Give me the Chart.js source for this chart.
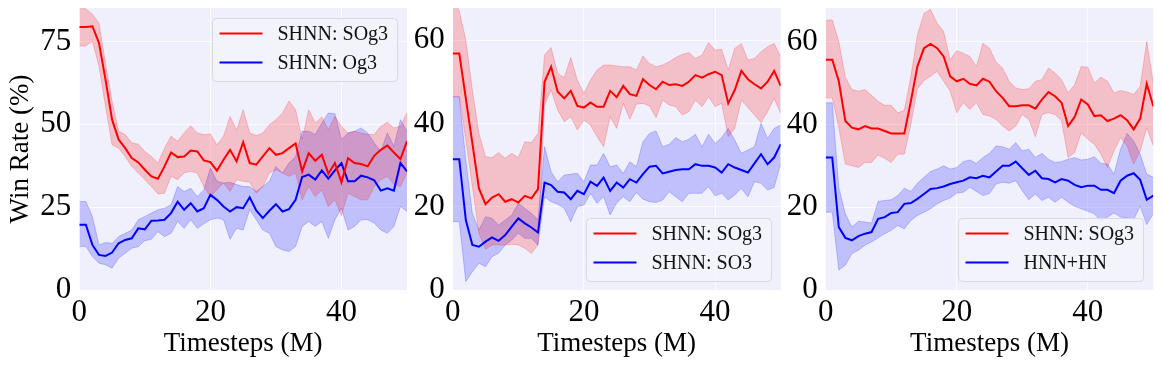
<!DOCTYPE html>
<html>
<head>
<meta charset="utf-8">
<script src="https://cdn.jsdelivr.net/npm/chart.js@4.4.1/dist/chart.umd.min.js"></script>
<style>
  body { margin: 0; background: #fff; }
  #wrap { position: relative; width: 1162px; height: 368px; }
  canvas { position: absolute; top: 0; }
</style>
</head>
<body>
<div id="wrap">
  <canvas id="c1" width="410" height="368" style="left:0px"></canvas>
  <canvas id="c2" width="375" height="368" style="left:410px"></canvas>
  <canvas id="c3" width="377" height="368" style="left:785px"></canvas>
</div>
<script>
// x grid (timesteps, millions)
const steps = [0,1,2,3,4,5,6,7,8,9,10,11,12,13,14,15,16,17,18,19,20,21,22,23,24,25,
  26,27,28,29,30,31,32,33,34,35,36,37,38,39,40,41,42,43,44,45,46,47,48,49,50];
const xTicks = [0, 20, 40];

// panel 1: SHNN: SOg3 vs SHNN: Og3
const p1Labels = ['SHNN: SOg3', 'SHNN: Og3'];
const p1YTicks = [0, 25, 50, 75];
const p1RedMean = [79.4,79.4,79.6,74.6,63.5,51.4,45.4,42.8,39.8,38.5,36.3,34.3,33.6,37.3,41.5,40.1,40.3,42.1,41.8,39.1,38.6,36.0,39.3,42.3,38.8,44.6,38.3,37.8,40.3,42.8,40.8,41.3,42.8,44.2,35.8,41.3,39.0,40.8,35.1,38.3,32.5,39.8,38.3,38.0,37.3,40.5,42.3,43.6,41.5,39.5,44.9];
const p1RedHi = [84.9,84.9,83.2,80.6,68.5,57.0,47.9,46.9,44.4,44.0,41.8,40.3,38.3,42.8,46.4,44.9,47.4,49.6,47.4,46.9,47.1,43.8,46.4,52.4,48.2,54.4,47.4,46.6,47.4,49.9,51.4,53.4,57.0,54.4,45.4,54.4,50.4,52.2,48.4,52.4,49.4,47.4,47.9,47.4,46.9,46.9,49.4,50.6,48.9,49.4,53.6];
const p1RedLo = [73.6,73.6,75.1,67.5,55.4,43.8,42.8,40.3,37.3,35.3,33.3,31.2,29.0,29.2,34.3,33.3,35.3,35.8,35.3,31.2,28.2,30.2,32.3,29.7,33.3,32.8,32.5,29.2,31.2,35.3,36.3,35.3,34.3,35.3,27.2,31.2,28.2,30.2,25.2,27.2,22.4,29.2,28.2,27.2,27.2,31.2,33.3,34.3,31.8,31.2,35.3];
const p1BlueMean = [19.7,19.7,13.6,10.6,10.3,11.3,14.1,15.1,15.6,18.6,18.3,20.9,21.0,21.2,23.2,26.6,24.2,26.2,23.7,24.7,28.7,27.2,25.2,23.7,25.0,24.7,28.0,24.0,21.7,23.9,25.9,23.7,24.4,27.2,34.1,34.8,33.3,36.1,33.6,36.1,38.3,32.8,32.8,34.5,34.0,33.1,30.0,30.7,30.0,38.3,35.8];
const p1BlueHi = [26.7,26.7,22.2,13.6,14.3,14.1,16.1,17.1,18.1,21.2,22.2,23.2,24.2,24.7,25.7,31.2,29.7,30.7,28.2,30.2,36.8,32.8,32.3,32.5,31.8,31.2,31.2,29.7,31.2,32.8,37.3,35.3,38.3,40.3,47.9,47.9,46.9,50.4,53.4,53.2,45.4,47.4,47.9,48.9,47.4,44.4,41.8,47.4,43.3,51.4,47.9];
const p1BlueLo = [13.1,13.1,10.1,8.1,7.6,6.6,9.6,11.1,12.6,13.1,14.9,15.3,17.6,16.1,17.1,20.7,18.6,21.2,18.6,20.0,21.2,21.7,21.2,15.3,18.6,18.1,24.2,21.2,18.1,17.1,13.1,12.1,11.6,13.1,19.2,20.7,19.2,20.7,15.6,21.2,24.7,18.1,19.2,21.2,21.2,20.2,18.1,17.1,19.2,25.2,23.7];

// panel 2: SHNN: SOg3 vs SHNN: SO3
const p2Labels = ['SHNN: SOg3', 'SHNN: SO3'];
const p2YTicks = [0, 20, 40, 60];
const p2RedMean = [56.8,56.8,46.0,35.2,24.4,20.6,22.2,23.0,21.2,21.8,21.0,22.6,22.0,24.2,50.0,53.6,47.6,46.0,47.8,44.2,43.8,45.0,44.0,44.0,47.8,46.3,49.0,47.0,46.6,50.6,49.2,48.2,50.0,49.2,49.4,49.0,50.0,51.6,51.0,51.8,52.4,51.6,44.8,48.0,52.6,50.6,49.4,48.4,50.0,52.6,49.0];
const p2RedHi = [70.0,67.0,60.0,48.0,37.6,32.0,31.8,33.0,31.6,32.8,31.8,35.6,35.4,37.6,56.4,58.2,52.0,51.0,55.8,50.4,47.2,50.4,52.8,54.0,54.0,53.8,53.6,53.6,52.8,56.2,54.4,53.6,54.0,54.8,55.8,56.6,57.0,55.6,56.4,59.4,57.6,57.8,52.8,58.0,59.2,55.2,55.6,57.2,58.4,59.2,56.0];
const p2RedLo = [46.4,46.4,36.0,24.8,13.6,9.8,10.8,10.8,10.8,11.0,10.8,10.0,8.8,10.8,44.4,48.0,43.2,40.4,41.6,38.4,40.8,39.6,36.8,34.4,41.6,38.8,44.8,41.0,44.6,44.8,44.2,41.4,45.6,44.4,44.0,42.0,42.8,45.6,44.0,46.4,44.0,44.8,36.8,38.8,45.6,43.8,42.0,40.2,42.8,46.0,42.4];
const p2BlueMean = [31.4,31.4,16.8,10.8,10.4,11.6,12.6,11.8,13.2,15.2,17.2,16.0,15.0,13.8,25.8,25.2,23.6,23.4,21.8,23.8,23.0,26.0,25.0,27.0,23.8,25.8,24.6,26.6,25.8,27.8,29.6,29.8,28.0,28.4,28.8,29.0,29.0,30.2,29.8,29.8,29.4,28.2,30.2,29.4,28.8,28.2,30.4,32.6,30.2,31.8,35.0];
const p2BlueHi = [46.4,46.4,31.2,18.4,14.4,17.6,17.2,15.6,16.8,18.0,20.8,19.6,18.4,16.8,34.4,28.4,26.0,27.6,27.8,28.0,26.0,30.0,30.0,32.8,29.6,30.0,28.0,30.8,29.6,35.6,37.6,38.2,34.4,35.0,36.6,35.6,36.2,37.4,34.4,37.4,35.2,36.6,38.8,36.0,32.8,33.6,34.4,40.0,36.4,38.8,39.6];
const p2BlueLo = [16.4,16.4,2.0,4.4,6.4,5.6,8.0,8.8,10.8,12.0,13.6,12.4,12.4,10.8,22.4,21.2,20.6,19.6,16.4,20.0,20.4,23.2,20.8,22.4,18.0,20.9,22.4,21.2,23.4,21.8,21.2,21.0,21.6,23.6,22.4,21.2,23.2,23.2,23.2,24.8,22.6,23.2,21.6,22.8,24.4,22.4,26.0,25.6,24.0,24.6,30.4];

// panel 3: SHNN: SOg3 vs HNN+HN
const p3Labels = ['SHNN: SOg3', 'HNN+HN'];
const p3YTicks = [0, 20, 40, 60];
const p3RedMean = [55.6,55.6,50.4,40.8,39.2,38.8,39.6,39.0,39.0,38.4,37.8,37.8,37.8,45.6,54.0,58.4,59.4,58.4,56.4,51.6,50.4,51.0,49.8,49.4,51.0,50.3,48.0,46.4,44.4,44.4,44.6,44.6,43.8,46.0,47.8,46.8,45.2,39.6,41.8,46.0,44.8,42.0,42.2,40.8,41.4,42.2,41.0,38.8,41.4,49.8,44.4];
const p3RedHi = [65.2,65.2,60.0,51.4,48.4,48.0,48.4,47.0,45.6,44.6,44.6,42.8,43.4,51.6,61.6,66.8,67.8,64.4,62.4,55.6,57.8,57.2,56.4,54.0,59.6,58.4,55.0,53.6,50.4,48.8,48.4,48.6,50.4,50.8,53.6,52.4,50.8,47.6,49.6,54.0,53.8,50.0,51.4,50.4,47.6,48.2,47.8,47.2,49.2,60.0,50.0];
const p3RedLo = [46.4,46.4,39.2,30.4,30.0,29.6,30.8,30.8,32.6,31.8,30.8,32.8,32.8,40.0,48.6,50.6,51.6,52.8,50.4,48.0,42.8,45.2,43.6,45.2,42.4,42.0,41.2,39.6,38.4,39.6,42.4,41.2,37.0,42.4,42.8,42.4,40.8,32.0,33.2,38.0,36.4,35.2,32.8,29.6,33.6,36.8,34.8,30.4,33.6,39.2,34.8];
const p3BlueMean = [32.0,32.0,15.2,12.6,12.0,13.0,13.6,14.0,17.2,17.6,18.6,18.8,20.8,21.0,22.0,23.2,24.4,24.6,25.0,25.6,26.0,26.4,27.2,27.0,27.6,27.2,28.6,30.0,30.0,31.0,29.4,27.8,28.8,27.0,26.8,26.0,26.8,26.4,25.4,24.8,25.2,25.2,24.2,24.2,23.4,26.4,27.6,28.2,26.6,21.8,22.8];
const p3BlueHi = [45.2,45.2,24.8,18.4,15.2,16.6,16.4,16.2,21.4,21.6,21.8,22.8,24.6,23.8,25.8,27.2,28.6,29.2,30.0,29.2,29.6,31.0,31.4,30.6,32.0,33.0,34.8,34.6,34.0,35.6,33.6,34.0,32.0,33.0,31.6,30.8,31.0,31.6,32.0,31.4,31.6,32.2,30.6,30.4,28.0,34.0,37.8,36.0,32.8,28.0,27.2];
const p3BlueLo = [18.8,18.8,4.8,6.0,8.8,9.6,10.8,11.6,12.6,13.6,14.4,15.6,14.8,16.8,18.0,18.8,19.6,20.8,21.6,22.2,23.4,23.6,24.8,23.8,22.8,23.3,25.6,26.0,25.8,26.4,24.0,21.8,23.2,21.6,22.4,21.2,22.4,21.2,20.2,19.6,19.0,18.4,16.6,17.6,18.6,17.6,17.4,17.0,20.2,15.8,18.4];

const FONT = '"Liberation Serif", "Times New Roman", serif';
const RED = '#ff0000';
const BLUE = '#0000ff';
const BG = '#f0f0fc';
const GRID = 'rgba(255,255,255,0.7)';

const pts = arr => arr.map((v, i) => ({ x: steps[i], y: v }));

// plot-area background
const areaBg = {
  id: 'areaBg',
  beforeDraw(chart) {
    const { ctx, chartArea: a } = chart;
    ctx.save();
    ctx.fillStyle = BG;
    ctx.fillRect(a.left, a.top, a.right - a.left, a.bottom - a.top);
    ctx.restore();
  }
};

// legend drawn inside the plot area, matplotlib style
const boxLegend = {
  id: 'boxLegend',
  afterDraw(chart, args, opts) {
    const { ctx, chartArea: a } = chart;
    const w = 185, h = 63;
    const x = Math.round(a.right - 10 - w) + 0.5;
    const y = Math.round(opts.corner === 'top' ? a.top + 10 : a.bottom - 9 - h) + 0.5;
    ctx.save();
    ctx.beginPath();
    ctx.roundRect(x, y, w, h, 4);
    ctx.fillStyle = 'rgba(243,243,252,0.85)';
    ctx.fill();
    ctx.strokeStyle = '#d8d8e0';
    ctx.lineWidth = 1;
    ctx.stroke();
    ctx.font = '20px ' + FONT;
    ctx.textBaseline = 'middle';
    opts.items.forEach((it, k) => {
      const ly = y + 15 + k * 29;
      ctx.strokeStyle = it.color;
      ctx.lineWidth = 2;
      ctx.beginPath();
      ctx.moveTo(x + 7, ly);
      ctx.lineTo(x + 50, ly);
      ctx.stroke();
      ctx.fillStyle = '#111';
      ctx.fillText(it.text, x + 65, ly + 1);
    });
    ctx.restore();
  }
};

function makePanel(id, o) {
  const band = (data, color, fill) => ({
    data: pts(data), borderColor: color, borderWidth: 1, backgroundColor: color,
    pointRadius: 0, fill: fill, order: 2, tension: 0
  });
  const line = (data, color) => ({
    data: pts(data), borderColor: color, borderWidth: 2, pointRadius: 0,
    fill: false, order: 0, tension: 0
  });
  new Chart(document.getElementById(id), {
    type: 'line',
    data: {
      datasets: [
        band(o.redLo, 'rgba(255,0,0,0.2)', false),
        band(o.redHi, 'rgba(255,0,0,0.2)', 0),
        band(o.blueLo, 'rgba(0,0,255,0.2)', false),
        band(o.blueHi, 'rgba(0,0,255,0.2)', 2),
        line(o.redMean, RED),
        line(o.blueMean, BLUE)
      ]
    },
    options: {
      responsive: false,
      animation: false,
      devicePixelRatio: 1,
      layout: { padding: { left: 0, right: o.padRight, top: 8, bottom: 0 } },
      plugins: {
        legend: { display: false },
        tooltip: { enabled: false },
        boxLegend: {
          corner: o.corner,
          items: [{ text: o.labels[0], color: RED }, { text: o.labels[1], color: BLUE }]
        }
      },
      scales: {
        x: {
          type: 'linear', min: 0, max: 50,
          afterBuildTicks: s => { s.ticks = xTicks.map(v => ({ value: v })); },
          afterFit: s => { s.height = 78; s.paddingLeft = 0; s.paddingRight = 0; },
          grid: { color: GRID, lineWidth: 1, drawTicks: false },
          border: { display: false },
          ticks: { color: '#000', font: { family: FONT, size: 31 }, padding: 4, maxRotation: 0 },
          title: {
            display: true, text: 'Timesteps (M)', color: '#000',
            font: { family: FONT, size: 27, lineHeight: 1.2 }, padding: { top: 0, bottom: 8 }
          }
        },
        y: {
          min: 0, max: o.yMax,
          afterBuildTicks: s => { s.ticks = o.yTicks.map(v => ({ value: v })); },
          afterFit: s => { s.width = o.yWidth; s.paddingTop = 0; s.paddingBottom = 0; },
          grid: { color: GRID, lineWidth: 1, drawTicks: false },
          border: { display: false },
          ticks: { color: '#000', font: { family: FONT, size: 31 }, padding: 8 },
          title: {
            display: !!o.yTitle, text: o.yTitle || '', color: '#000',
            font: { family: FONT, size: 27, lineHeight: 1.2 }, padding: { top: 5, bottom: 0 }
          }
        }
      }
    },
    plugins: [areaBg, boxLegend]
  });
}

makePanel('c1', {
  labels: p1Labels, yTicks: p1YTicks, yMax: 85.1, yWidth: 79.3, padRight: 3, corner: 'top',
  yTitle: 'Win Rate (%)',
  redMean: p1RedMean, redHi: p1RedHi, redLo: p1RedLo,
  blueMean: p1BlueMean, blueHi: p1BlueHi, blueLo: p1BlueLo
});
makePanel('c2', {
  labels: p2Labels, yTicks: p2YTicks, yMax: 67.7, yWidth: 42.7, padRight: 4.3, corner: 'bottom',
  redMean: p2RedMean, redHi: p2RedHi, redLo: p2RedLo,
  blueMean: p2BlueMean, blueHi: p2BlueHi, blueLo: p2BlueLo
});
makePanel('c3', {
  labels: p3Labels, yTicks: p3YTicks, yMax: 68.1, yWidth: 40.7, padRight: 8.7, corner: 'bottom',
  redMean: p3RedMean, redHi: p3RedHi, redLo: p3RedLo,
  blueMean: p3BlueMean, blueHi: p3BlueHi, blueLo: p3BlueLo
});
</script>
</body>
</html>
